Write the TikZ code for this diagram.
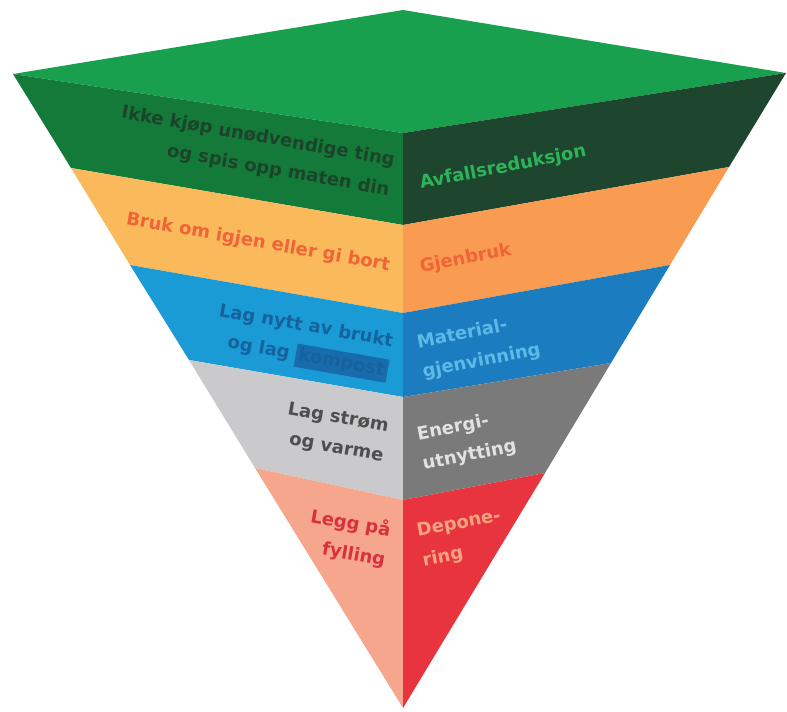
\documentclass[tikz,border=0pt]{standalone}
\usepackage{fontspec}
\setmainfont{DejaVu Sans}
\definecolor{topgreen}{RGB}{24,160,78}
\definecolor{lgreen}{RGB}{20,122,58}
\definecolor{rgreen}{RGB}{30,70,46}
\definecolor{lorange}{RGB}{250,186,92}
\definecolor{rorange}{RGB}{249,156,82}
\definecolor{lblue}{RGB}{26,155,214}
\definecolor{rblue}{RGB}{27,124,192}
\definecolor{lgray}{RGB}{202,202,204}
\definecolor{rgray}{RGB}{122,122,122}
\definecolor{lred}{RGB}{246,166,140}
\definecolor{rred}{RGB}{232,52,62}
\definecolor{txdgreen}{RGB}{28,68,42}
\definecolor{txlgreen}{RGB}{45,180,90}
\definecolor{txorange}{RGB}{240,100,55}
\definecolor{txdblue}{RGB}{22,98,158}
\definecolor{hlblue}{RGB}{24,108,172}
\definecolor{txlblue}{RGB}{92,186,232}
\definecolor{txdgray}{RGB}{78,78,78}
\definecolor{txlgray}{RGB}{226,226,226}
\definecolor{txred}{RGB}{218,48,60}
\definecolor{txsalmon}{RGB}{246,162,130}
\newcommand\lblfont{\fontsize{18}{30}\selectfont\bfseries}
\begin{document}
\begin{tikzpicture}[x=1pt,y=-1pt,
  lefttxt/.style={anchor=east,align=right,rotate=-10,inner sep=0pt,font=\lblfont},
  righttxt/.style={anchor=west,align=left,rotate=11,inner sep=0pt,font=\lblfont}]
\useasboundingbox (0,0) rectangle (787,712);
% corners of the top face and the apex
\coordinate (T) at (403,10);
\coordinate (A) at (403,708);
% front edge
\coordinate (C0) at (403,133);
\coordinate (C1) at (403,225);
\coordinate (C2) at (403,313);
\coordinate (C3) at (403,397);
\coordinate (C4) at (403,500);
% left edge
\coordinate (L0) at (13,74);
\coordinate (L1) at (71,168);
\coordinate (L2) at (130,265);
\coordinate (L3) at (189,360);
\coordinate (L4) at (255,468);
% right edge
\coordinate (R0) at (786,73);
\coordinate (R1) at (729,167);
\coordinate (R2) at (670,265);
\coordinate (R3) at (611,363);
\coordinate (R4) at (545,473);
% faces
\fill[topgreen] (T) -- (R0) -- (C0) -- (L0) -- cycle;
\fill[lgreen] (L0) -- (C0) -- (C1) -- (L1) -- cycle;
\fill[rgreen] (C0) -- (R0) -- (R1) -- (C1) -- cycle;
\fill[lorange] (L1) -- (C1) -- (C2) -- (L2) -- cycle;
\fill[rorange] (C1) -- (R1) -- (R2) -- (C2) -- cycle;
\fill[lblue] (L2) -- (C2) -- (C3) -- (L3) -- cycle;
\fill[rblue] (C2) -- (R2) -- (R3) -- (C3) -- cycle;
\fill[lgray] (L3) -- (C3) -- (C4) -- (L4) -- cycle;
\fill[rgray] (C3) -- (R3) -- (R4) -- (C4) -- cycle;
\fill[lred] (L4) -- (C4) -- (A) -- cycle;
\fill[rred] (C4) -- (R4) -- (A) -- cycle;
% labels
\node[lefttxt,text=txdgreen] (ikke) at (392,176) {Ikke kjøp unødvendige ting\\og spis opp maten din};
\node[righttxt,text=txlgreen] (avfall) at (420,184) {Avfallsreduksjon};
\node[lefttxt,text=txorange] (bruk) at (390,266) {Bruk om igjen eller gi bort};
\node[righttxt,text=txorange] (gjenbruk) at (420,268) {Gjenbruk};
\node[lefttxt,text=txdblue] (nytt) at (390,358) {Lag nytt av brukt\\og lag {\setlength\fboxsep{3pt}\colorbox{hlblue}{kompost}}};
\node[righttxt,text=txlblue] (material) at (420,358) {Material-\\gjenvinning};
\node[lefttxt,text=txdgray] (strom) at (386,442) {Lag strøm\\og varme};
\node[righttxt,text=txlgray] (energi) at (420,450) {Energi-\\utnytting};
\node[lefttxt,text=txred] (legg) at (388,545) {Legg på\\fylling};
\node[righttxt,text=txsalmon] (depon) at (420,547) {Depone-\\ring};
\end{tikzpicture}
\end{document}
